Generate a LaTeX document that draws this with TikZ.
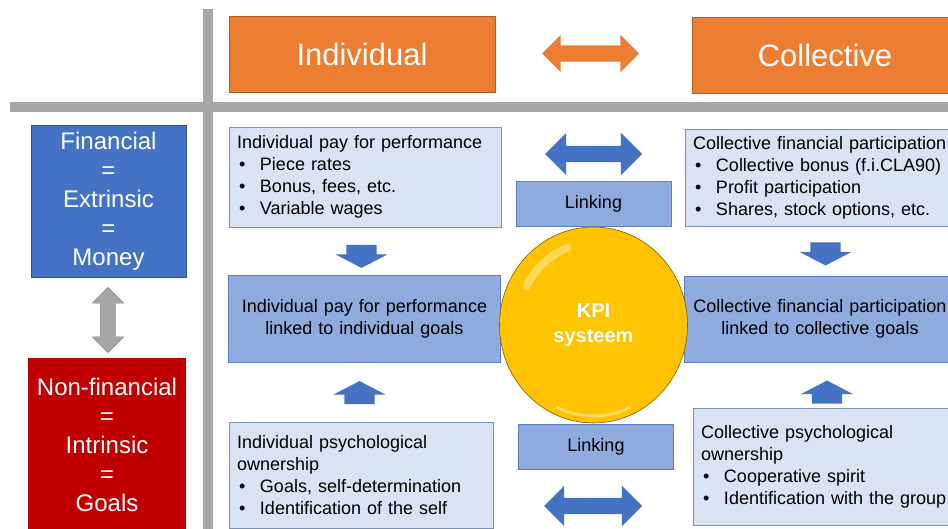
\documentclass[tikz,border=0pt]{standalone}
\usepackage{fontspec}
\setmainfont{Liberation Sans}
\usetikzlibrary{shapes.arrows,shapes.geometric}

\definecolor{headorange}{HTML}{ED7D31}
\definecolor{headline}{HTML}{B35E24}
\definecolor{finblue}{HTML}{4472C4}
\definecolor{finline}{HTML}{2F528F}
\definecolor{nonred}{HTML}{C00000}
\definecolor{listfill}{HTML}{DAE3F3}
\definecolor{listline}{HTML}{7C8FB5}
\definecolor{goalfill}{HTML}{8FAADC}
\definecolor{goalline}{HTML}{5B7FC2}
\definecolor{gridgray}{HTML}{A9A7A6}
\definecolor{arrowgray}{HTML}{A6A6A6}
\definecolor{arrowline}{HTML}{7F7F7F}
\definecolor{ballcore}{HTML}{FFC800}
\definecolor{ballyellow}{HTML}{FFC000}
\definecolor{ballmid}{HTML}{F2B600}
\definecolor{ballrim}{HTML}{D49A00}
\definecolor{balledge}{HTML}{B07E00}
\definecolor{balldark}{HTML}{7F5E00}

\pgfdeclareradialshading{kpishade}{\pgfpoint{0bp}{0bp}}{%
  color(0bp)=(ballcore); color(30bp)=(ballyellow); color(37bp)=(ballmid);
  color(43bp)=(ballrim); color(47.5bp)=(balledge); color(50bp)=(balldark)}

\newcommand\bulitem[1]{\makebox[23pt][l]{\hspace{2pt}\textbullet}#1}

\tikzset{
  headbox/.style={draw=headline, fill=headorange, text=white, minimum width=266,
    minimum height=76, font=\fontsize{31}{36}\selectfont},
  sidebox/.style={text=white, align=center, inner sep=0,
    font=\fontsize{24}{29}\selectfont},
  listbox/.style={draw=listline, fill=listfill, align=left, text width=256,
    inner xsep=8, inner ysep=0, font=\fontsize{18}{22}\selectfont},
  goalbox/.style={draw=goalline, fill=goalfill, align=center, text width=256,
    inner xsep=8, inner ysep=0, font=\fontsize{18}{22}\selectfont},
  linkbox/.style={draw=goalline, fill=goalfill, minimum width=155,
    minimum height=45, font=\fontsize{18}{22}\selectfont},
  dblarrow/.style={double arrow, double arrow tip angle=90, inner xsep=0,
    fill=finblue},
  sglarrow/.style={single arrow, single arrow tip angle=125, inner xsep=0,
    inner ysep=15, single arrow head extend=11, minimum height=23, fill=finblue},
  kpiball/.style={ellipse, minimum width=188, minimum height=196, inner sep=0,
    draw=balldark, line width=0.6, shade, shading=kpishade, text=white,
    align=center, font=\bfseries\fontsize{20}{25}\selectfont}
}

\begin{document}
\begin{tikzpicture}[x=1pt,y=-1pt]
\useasboundingbox (0,0) rectangle (948,529);
\clip (0,0) rectangle (948,529);

% cross of the grid
\fill[gridgray] (203,9) rectangle (213,529);
\fill[gridgray] (10,102) rectangle (948,112);

% column heads
\node[headbox] (indiv) at (362,54) {Individual};
\node[headbox] (coll) at (825,55) {Collective};
\node[dblarrow, fill=headorange, minimum height=97, inner ysep=8,
  double arrow head extend=10.5] (headarr) at (590.5,53.5) {};

% row heads
\node[sidebox, fill=finblue, draw=finline, minimum width=155, minimum height=152]
  (fin) at (108.5,201) {Financial\\=\\Extrinsic\\=\\Money};
\node[sidebox, fill=nonred, minimum width=158, minimum height=174]
  (nonfin) at (107,445) {Non-financial\\=\\Intrinsic\\=\\Goals};
\node[dblarrow, fill=arrowgray, draw=arrowline, rotate=90, minimum height=65,
  inner ysep=7.5, double arrow head extend=8] (rowarr) at (108,320) {};

% individual column
\node[listbox, minimum height=100] (ipay) at (365,177)
  {Individual pay for performance\\ \bulitem{Piece rates}\\
   \bulitem{Bonus, fees, etc.}\\ \bulitem{Variable wages}};
\node[goalbox, minimum height=87] (ilink) at (364.5,318.5)
  {Individual pay for performance\\linked to individual goals};
\node[listbox, text width=248, minimum height=106] (ipsy) at (361,475)
  {Individual psychological\\ownership\\
   \bulitem{Goals, self-determination}\\ \bulitem{Identification of the self}};
\node[sglarrow, rotate=-90] (idown) at (361.5,252.5) {};
\node[sglarrow, rotate=90] (iup) at (359.5,396.5) {};

% collective column
\node[listbox, minimum height=97] (cpay) at (821,177.5)
  {Collective financial participation\\ \bulitem{Collective bonus (f.i.CLA90)}\\
   \bulitem{Profit participation}\\ \bulitem{Shares, stock options, etc.}};
\node[goalbox, minimum height=86] (clink) at (820,319)
  {Collective financial participation\\linked to collective goals};
\node[listbox, minimum height=117] (cpsy) at (829,466.5)
  {Collective psychological\\ownership\\
   \bulitem{Cooperative spirit}\\ \bulitem{Identification with the group}};
\node[sglarrow, rotate=-90] (cdown) at (825.5,250) {};
\node[sglarrow, rotate=90] (cup) at (827,396) {};

% linking in the middle
\node[linkbox] (linktop) at (593.5,203.5) {Linking};
\node[linkbox] (linkbot) at (596,446.5) {Linking};
\node[dblarrow, minimum height=97, inner ysep=8, double arrow head extend=13]
  (toparr) at (593.5,154) {};
\node[dblarrow, minimum height=98, inner ysep=8, double arrow head extend=12]
  (botarr) at (593,506) {};

% KPI ball with its gloss
\node[kpiball] (kpi) at (593.5,325) {KPI\\systeem};
\draw[white, opacity=.35, line width=8, line cap=round]
  (kpi.center) ++(208:76 and 82) arc[start angle=208, end angle=250, x radius=76, y radius=82];
\draw[ballcore!40!white, opacity=.6, line width=3, line cap=round]
  (kpi.center) ++(65:86 and 91) arc[start angle=65, end angle=115, x radius=86, y radius=91];
\end{tikzpicture}
\end{document}
